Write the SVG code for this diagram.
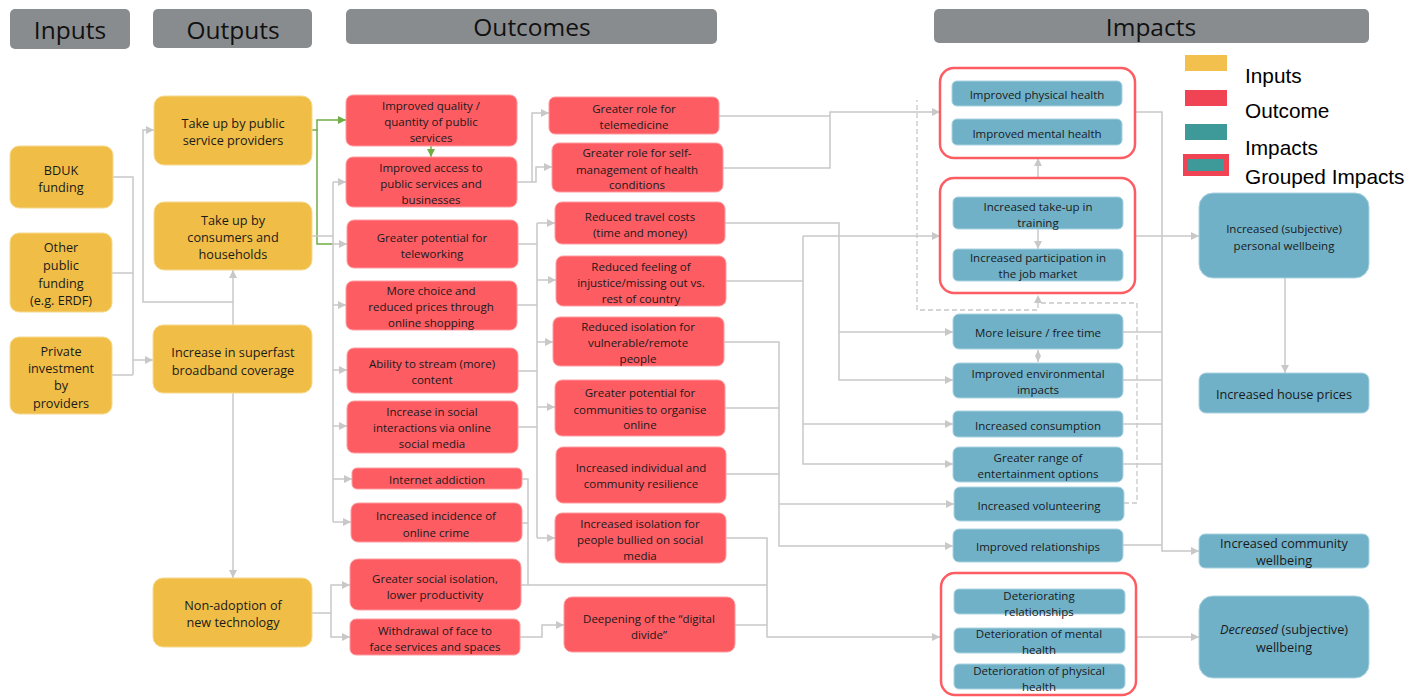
<svg xmlns="http://www.w3.org/2000/svg" width="1424" height="697" viewBox="0 0 1424 697">
  <defs>
    <marker id="arr" viewBox="0 0 10 10" refX="10" refY="5" markerWidth="9" markerHeight="8" markerUnits="userSpaceOnUse" orient="auto-start-reverse">
      <path d="M0,0 L10,5 L0,10 z" fill="#c8c8c8"/>
    </marker>
    <marker id="arrs" viewBox="0 0 10 10" refX="10" refY="5" markerWidth="6" markerHeight="7" markerUnits="userSpaceOnUse" orient="auto-start-reverse">
      <path d="M0,0 L10,5 L0,10 z" fill="#c8c8c8"/>
    </marker>
    <marker id="arrg" viewBox="0 0 10 10" refX="10" refY="5" markerWidth="9" markerHeight="8" markerUnits="userSpaceOnUse" orient="auto">
      <path d="M0,0 L10,5 L0,10 z" fill="#70ad47"/>
    </marker>
    <style>
      .hdr { fill: #898c8f; }
      .hdrt { font-family: "Open Sans", "Noto Sans", sans-serif; font-size: 24.5px; fill: #111; text-anchor: middle; dominant-baseline: central; }
      .in { fill: #f0be46; stroke: #f6d98f; stroke-width: 1; }
      .oc { fill: #fd5c63; stroke: #fe9ca0; stroke-width: 1; }
      .im { fill: #70b1c8; stroke: #a9d2e0; stroke-width: 1; }
      .grp { fill: none; stroke: #fd5c63; stroke-width: 2.5; }
      .t { font-family: "Open Sans", "Noto Sans", sans-serif; font-size: 11.5px; fill: #1a1a1a; text-anchor: middle; dominant-baseline: central; }
      .tl { font-family: "Open Sans", "Noto Sans", sans-serif; font-size: 12.7px; fill: #1a1a1a; text-anchor: middle; dominant-baseline: central; }
      .lg { font-family: "Liberation Sans", Arial, sans-serif; font-size: 20.8px; fill: #000; dominant-baseline: central; }
      .c { fill: none; stroke: #c8c8c8; stroke-width: 1.5; }
      .ca { fill: none; stroke: #c8c8c8; stroke-width: 1.5; marker-end: url(#arr); }
      .cd { fill: none; stroke: #c8c8c8; stroke-width: 1.3; stroke-dasharray: 5 3; }
      .cg { fill: none; stroke: #70ad47; stroke-width: 1.5; }
    </style>
  </defs>

  <!-- column headers -->
  <g id="headers">
    <rect class="hdr" x="10" y="9" width="120" height="40" rx="5"/>
    <text class="hdrt" x="70" y="29" font-size="25.5">Inputs</text>
    <rect class="hdr" x="153" y="9" width="159" height="39" rx="5"/>
    <text class="hdrt" x="233" y="29" font-size="25.5">Outputs</text>
    <rect class="hdr" x="346" y="9" width="371" height="35" rx="5"/>
    <text class="hdrt" x="532" y="26">Outcomes</text>
    <rect class="hdr" x="934" y="9" width="435" height="34" rx="5"/>
    <text class="hdrt" x="1151" y="26">Impacts</text>
  </g>

  <!-- legend -->
  <g id="legend">
    <rect x="1185" y="55" width="42" height="16" fill="#f2c04c"/>
    <text class="lg" x="1245" y="75">Inputs</text>
    <rect x="1185" y="90" width="42" height="16" fill="#f04455"/>
    <text class="lg" x="1245" y="110">Outcome</text>
    <rect x="1185" y="124" width="42" height="16" fill="#3e9a98"/>
    <text class="lg" x="1245" y="147">Impacts</text>
    <rect x="1183" y="154" width="46" height="22" fill="#f04455"/>
    <rect x="1188" y="159" width="36" height="12" fill="#3e9a98"/>
    <text class="lg" x="1245" y="176">Grouped Impacts</text>
  </g>

  <!-- connectors -->
  <g id="connectors">
    <!-- inputs to coverage -->
    <path class="c" d="M113,177 H133 V375 M112,273 H133 M112,375 H133"/>
    <path class="ca" d="M133,360 H153"/>
    <!-- coverage to take-up and non-adoption -->
    <path class="ca" d="M233,325 V270"/>
    <path class="ca" d="M233,302 H143 V130 H154"/>
    <path class="ca" d="M233,393 V578"/>
    <!-- public service providers (green) -->
    <path class="cg" d="M312,130 H317 V120 H346" marker-end="url(#arrg)"/>
    <path class="cg" d="M317,130 V244 H333"/>
    <path class="cg" d="M431,146 V157" marker-end="url(#arrg)"/>
    <!-- consumers trunk -->
    <path class="c" d="M312,236 H333 M333,182 V522"/>
    <path class="ca" d="M333,182 H346"/>
    <path class="ca" d="M333,244 H347"/>
    <path class="ca" d="M333,305 H346"/>
    <path class="ca" d="M333,370 H347"/>
    <path class="ca" d="M333,426 H347"/>
    <path class="ca" d="M333,479 H352"/>
    <path class="ca" d="M333,522 H351"/>
    <!-- non-adoption -->
    <path class="ca" d="M312,613 H331 V585 H350"/>
    <path class="ca" d="M331,613 V637 H350"/>
    <!-- improved access to health outcomes -->
    <path class="ca" d="M517,182 H532 V113 H549"/>
    <path class="ca" d="M532,182 H536 V167 H552"/>
    <!-- second-level outcomes trunk -->
    <path class="c" d="M518,244 H537 M517,305 H537 M518,371 H537 M518,427 H537 M537,223 V538"/>
    <path class="ca" d="M537,223 H555"/>
    <path class="ca" d="M537,280 H556"/>
    <path class="ca" d="M537,342 H553"/>
    <path class="ca" d="M537,407 H555"/>
    <path class="ca" d="M537,538 H555"/>
    <!-- negative outcomes -->
    <path class="c" d="M522,479 H528 V585 M522,523 H528 M521,585 H767"/>
    <path class="ca" d="M520,637 H542 V625 H564"/>
    <path class="c" d="M735,625 H767"/>
    <path class="ca" d="M726,538 H767 V637 H940"/>
    <!-- health outcomes to health impacts -->
    <path class="c" d="M719,116 H830"/>
    <path class="ca" d="M723,168 H830 V112 H940"/>
    <!-- travel costs -->
    <path class="ca" d="M725,223 H839 V380 H953"/>
    <path class="ca" d="M839,332 H953"/>
    <!-- injustice -->
    <path class="c" d="M726,281 H803"/>
    <path class="ca" d="M803,236 V464 H953"/>
    <path class="ca" d="M803,236 H940"/>
    <path class="ca" d="M803,424 H953"/>
    <!-- isolation / communities / resilience -->
    <path class="c" d="M725,408 H779 M726,474 H779"/>
    <path class="ca" d="M724,342 H779 V546 H953"/>
    <path class="ca" d="M779,504 H954"/>
    <!-- links between impacts -->
    <path class="ca" d="M1038,178 V158"/>
    <path class="ca" d="M1038,229 V249"/>
    <path class="c" d="M1038,350 V362" marker-start="url(#arrs)" marker-end="url(#arrs)"/>
    <path class="cd" d="M1124,503 H1137 V303 H1038 V295" marker-end="url(#arr)"/>
    <path class="cd" d="M1038,303 V310 H917 V100"/>
    <!-- impacts to final impacts -->
    <path class="c" d="M1123,332 H1162 M1123,380 H1162 M1123,424 H1162 M1123,464 H1162 M1123,545 H1162"/>
    <path class="ca" d="M1135,112 H1162 V551 H1199"/>
    <path class="ca" d="M1135,236 H1199"/>
    <path class="ca" d="M1285,278 V373"/>
    <path class="ca" d="M1136,637 H1199"/>
  </g>

  <!-- inputs -->
  <g id="n-bduk">
    <rect class="in" x="10" y="146" width="103" height="62" rx="9"/>
    <text class="tl" x="61" y="170">BDUK</text>
    <text class="tl" x="61" y="187">funding</text>
  </g>
  <g id="n-other-public">
    <rect class="in" x="10" y="233" width="102" height="79" rx="9"/>
    <text class="tl" x="61" y="247">Other</text>
    <text class="tl" x="61" y="265">public</text>
    <text class="tl" x="61" y="283">funding</text>
    <text class="tl" x="61" y="300">(e.g. ERDF)</text>
  </g>
  <g id="n-private">
    <rect class="in" x="10" y="337" width="102" height="77" rx="9"/>
    <text class="tl" x="61" y="351">Private</text>
    <text class="tl" x="61" y="368">investment</text>
    <text class="tl" x="61" y="385">by</text>
    <text class="tl" x="61" y="403">providers</text>
  </g>

  <!-- outputs -->
  <g id="n-public-takeup">
    <rect class="in" x="154" y="96" width="158" height="69" rx="10"/>
    <text class="tl" x="233" y="123">Take up by public</text>
    <text class="tl" x="233" y="140">service providers</text>
  </g>
  <g id="n-consumer-takeup">
    <rect class="in" x="154" y="202" width="158" height="68" rx="10"/>
    <text class="tl" x="233" y="220">Take up by</text>
    <text class="tl" x="233" y="237">consumers and</text>
    <text class="tl" x="233" y="254">households</text>
  </g>
  <g id="n-coverage">
    <rect class="in" x="153" y="325" width="159" height="68" rx="10"/>
    <text class="tl" x="233" y="352">Increase in superfast</text>
    <text class="tl" x="233" y="370">broadband coverage</text>
  </g>
  <g id="n-non-adoption">
    <rect class="in" x="153" y="578" width="159" height="69" rx="10"/>
    <text class="tl" x="233" y="605">Non-adoption of</text>
    <text class="tl" x="233" y="622">new technology</text>
  </g>

  <!-- outcomes, first level -->
  <g id="n-quality">
    <rect class="oc" x="346" y="95" width="171" height="51" rx="7"/>
    <text class="t" x="431" y="105">Improved quality /</text>
    <text class="t" x="431" y="121">quantity of public</text>
    <text class="t" x="431" y="137">services</text>
  </g>
  <g id="n-access">
    <rect class="oc" x="346" y="157" width="171" height="50" rx="7"/>
    <text class="t" x="431" y="167">Improved access to</text>
    <text class="t" x="431" y="183">public services and</text>
    <text class="t" x="431" y="199">businesses</text>
  </g>
  <g id="n-teleworking">
    <rect class="oc" x="347" y="220" width="171" height="48" rx="7"/>
    <text class="t" x="432" y="237">Greater potential for</text>
    <text class="t" x="432" y="253">teleworking</text>
  </g>
  <g id="n-shopping">
    <rect class="oc" x="346" y="281" width="171" height="49" rx="7"/>
    <text class="t" x="431" y="290">More choice and</text>
    <text class="t" x="431" y="306">reduced prices through</text>
    <text class="t" x="431" y="322">online shopping</text>
  </g>
  <g id="n-stream">
    <rect class="oc" x="347" y="348" width="171" height="45" rx="7"/>
    <text class="t" x="432" y="363">Ability to stream (more)</text>
    <text class="t" x="432" y="379">content</text>
  </g>
  <g id="n-social">
    <rect class="oc" x="347" y="401" width="171" height="52" rx="7"/>
    <text class="t" x="432" y="411">Increase in social</text>
    <text class="t" x="432" y="427">interactions via online</text>
    <text class="t" x="432" y="443">social media</text>
  </g>
  <g id="n-addiction">
    <rect class="oc" x="352" y="468" width="170" height="21" rx="5"/>
    <text class="t" x="437" y="479">Internet addiction</text>
  </g>
  <g id="n-crime">
    <rect class="oc" x="351" y="503" width="171" height="39" rx="7"/>
    <text class="t" x="436" y="515">Increased incidence of</text>
    <text class="t" x="436" y="532">online crime</text>
  </g>
  <g id="n-isolation">
    <rect class="oc" x="350" y="559" width="171" height="51" rx="8"/>
    <text class="t" x="435" y="578">Greater social isolation,</text>
    <text class="t" x="435" y="594">lower productivity</text>
  </g>
  <g id="n-withdrawal">
    <rect class="oc" x="350" y="619" width="170" height="36" rx="6"/>
    <text class="t" x="435" y="630">Withdrawal of face to</text>
    <text class="t" x="435" y="646">face services and spaces</text>
  </g>

  <!-- outcomes, second level -->
  <g id="n-telemedicine">
    <rect class="oc" x="549" y="97" width="170" height="37" rx="6"/>
    <text class="t" x="634" y="108">Greater role for</text>
    <text class="t" x="634" y="124">telemedicine</text>
  </g>
  <g id="n-self-management">
    <rect class="oc" x="552" y="143" width="171" height="49" rx="7"/>
    <text class="t" x="637" y="152">Greater role for self-</text>
    <text class="t" x="637" y="169">management of health</text>
    <text class="t" x="637" y="184">conditions</text>
  </g>
  <g id="n-travel">
    <rect class="oc" x="555" y="202" width="170" height="42" rx="7"/>
    <text class="t" x="640" y="216">Reduced travel costs</text>
    <text class="t" x="640" y="232">(time and money)</text>
  </g>
  <g id="n-injustice">
    <rect class="oc" x="556" y="256" width="170" height="50" rx="7"/>
    <text class="t" x="641" y="266">Reduced feeling of</text>
    <text class="t" x="641" y="282">injustice/missing out vs.</text>
    <text class="t" x="641" y="298">rest of country</text>
  </g>
  <g id="n-vulnerable">
    <rect class="oc" x="553" y="317" width="171" height="49" rx="7"/>
    <text class="t" x="638" y="326">Reduced isolation for</text>
    <text class="t" x="638" y="342">vulnerable/remote</text>
    <text class="t" x="638" y="358">people</text>
  </g>
  <g id="n-communities">
    <rect class="oc" x="555" y="380" width="170" height="56" rx="7"/>
    <text class="t" x="640" y="392">Greater potential for</text>
    <text class="t" x="640" y="409">communities to organise</text>
    <text class="t" x="640" y="424">online</text>
  </g>
  <g id="n-resilience">
    <rect class="oc" x="556" y="447" width="170" height="56" rx="7"/>
    <text class="t" x="641" y="467">Increased individual and</text>
    <text class="t" x="641" y="483">community resilience</text>
  </g>
  <g id="n-bullied">
    <rect class="oc" x="555" y="513" width="171" height="50" rx="7"/>
    <text class="t" x="640" y="523">Increased isolation for</text>
    <text class="t" x="640" y="539">people bullied on social</text>
    <text class="t" x="640" y="555">media</text>
  </g>
  <g id="n-digital-divide">
    <rect class="oc" x="564" y="597" width="171" height="55" rx="8"/>
    <text class="t" x="649" y="618">Deepening of the “digital</text>
    <text class="t" x="649" y="634">divide”</text>
  </g>

  <!-- grouped impacts: health -->
  <g id="g-health">
    <rect class="grp" x="940" y="68" width="195" height="90" rx="14"/>
    <g id="n-physical-health">
      <rect class="im" x="952" y="81" width="170" height="25" rx="5"/>
      <text class="t" x="1037" y="94">Improved physical health</text>
    </g>
    <g id="n-mental-health">
      <rect class="im" x="952" y="119" width="170" height="26" rx="5"/>
      <text class="t" x="1037" y="133">Improved mental health</text>
    </g>
  </g>

  <!-- grouped impacts: skills and work -->
  <g id="g-work">
    <rect class="grp" x="940" y="178" width="195" height="115" rx="14"/>
    <g id="n-training">
      <rect class="im" x="953" y="197" width="170" height="32" rx="5"/>
      <text class="t" x="1038" y="206">Increased take-up in</text>
      <text class="t" x="1038" y="222">training</text>
    </g>
    <g id="n-job-market">
      <rect class="im" x="953" y="249" width="170" height="32" rx="5"/>
      <text class="t" x="1038" y="257">Increased participation in</text>
      <text class="t" x="1038" y="273">the job market</text>
    </g>
  </g>

  <!-- single impacts -->
  <g id="n-leisure">
    <rect class="im" x="953" y="314" width="170" height="35" rx="6"/>
    <text class="t" x="1038" y="332">More leisure / free time</text>
  </g>
  <g id="n-environment">
    <rect class="im" x="953" y="363" width="170" height="35" rx="6"/>
    <text class="t" x="1038" y="373">Improved environmental</text>
    <text class="t" x="1038" y="389">impacts</text>
  </g>
  <g id="n-consumption">
    <rect class="im" x="953" y="411" width="170" height="26" rx="5"/>
    <text class="t" x="1038" y="425">Increased consumption</text>
  </g>
  <g id="n-entertainment">
    <rect class="im" x="953" y="447" width="170" height="35" rx="6"/>
    <text class="t" x="1038" y="457">Greater range of</text>
    <text class="t" x="1038" y="473">entertainment options</text>
  </g>
  <g id="n-volunteering">
    <rect class="im" x="954" y="487" width="170" height="34" rx="6"/>
    <text class="t" x="1039" y="505">Increased volunteering</text>
  </g>
  <g id="n-relationships">
    <rect class="im" x="953" y="529" width="170" height="33" rx="6"/>
    <text class="t" x="1038" y="546">Improved relationships</text>
  </g>

  <!-- grouped impacts: deterioration -->
  <g id="g-deterioration">
    <rect class="grp" x="941" y="573" width="195" height="122" rx="14"/>
    <g id="n-det-relationships">
      <rect class="im" x="954" y="589" width="171" height="25" rx="5"/>
      <text class="t" x="1039" y="595">Deteriorating</text>
      <text class="t" x="1039" y="611">relationships</text>
    </g>
    <g id="n-det-mental">
      <rect class="im" x="954" y="628" width="171" height="25" rx="5"/>
      <text class="t" x="1039" y="633">Deterioration of mental</text>
      <text class="t" x="1039" y="649">health</text>
    </g>
    <g id="n-det-physical">
      <rect class="im" x="954" y="664" width="171" height="25" rx="5"/>
      <text class="t" x="1039" y="670">Deterioration of physical</text>
      <text class="t" x="1039" y="686">health</text>
    </g>
  </g>

  <!-- final impacts -->
  <g id="n-personal-wellbeing">
    <rect class="im" x="1199" y="193" width="170" height="85" rx="14"/>
    <text class="t" x="1284" y="228" font-size="12.2">Increased (subjective)</text>
    <text class="t" x="1284" y="245" font-size="12.2">personal wellbeing</text>
  </g>
  <g id="n-house-prices">
    <rect class="im" x="1199" y="373" width="170" height="40" rx="7"/>
    <text class="tl" x="1284" y="394">Increased house prices</text>
  </g>
  <g id="n-community-wellbeing">
    <rect class="im" x="1199" y="534" width="170" height="34" rx="6"/>
    <text class="tl" x="1284" y="543">Increased community</text>
    <text class="tl" x="1284" y="560">wellbeing</text>
  </g>
  <g id="n-decreased-wellbeing">
    <rect class="im" x="1199" y="596" width="170" height="82" rx="14"/>
    <text class="tl" x="1284" y="629"><tspan font-style="italic">Decreased</tspan> (subjective)</text>
    <text class="tl" x="1284" y="647">wellbeing</text>
  </g>
</svg>
